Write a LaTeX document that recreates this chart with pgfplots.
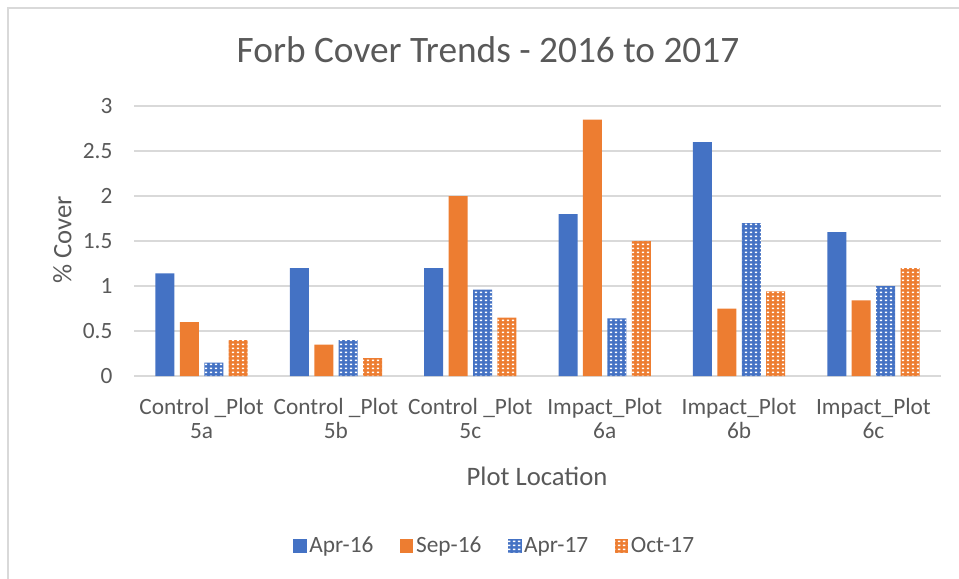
\documentclass[border=0pt]{standalone}
\usepackage{fontspec}
\setmainfont{Carlito}
\usepackage{pgfplots}
\pgfplotsset{compat=1.18}
\usetikzlibrary{patterns.meta}
\definecolor{xblue}{HTML}{4472C4}
\definecolor{xorange}{HTML}{ED7D31}
\definecolor{xtext}{HTML}{595959}
\definecolor{xgrid}{HTML}{D9D9D9}
\pgfdeclarepattern{
  name=holes, type=uncolored,
  bottom left={\pgfpoint{0pt}{0pt}},
  top right={\pgfpoint{3.4pt}{3pt}},
  tile size={\pgfpoint{3.4pt}{3pt}},
  code={\pgfpathrectangle{\pgfpoint{0.7pt}{0.7pt}}{\pgfpoint{1.9pt}{1.5pt}}\pgfusepath{fill}}
}
\begin{document}
\begin{tikzpicture}
\useasboundingbox (-100.8pt,-151.5pt) rectangle (618.45pt,282pt);
\draw[xgrid, line width=1pt] (-94.8pt,-170pt) -- (-94.8pt,276pt) -- (640pt,276pt);
\begin{axis}[
  at={(0pt,0pt)}, anchor=south west,
  scale only axis,
  width=604.65pt, height=202.5pt,
  ybar=4.05pt, bar width=14.25pt,
  xmin=-0.5, xmax=5.5,
  ymin=0, ymax=3,
  ytick={0,0.5,...,3},
  xtick={0,1,2,3,4,5},
  xticklabels={{Control \_Plot\\5a},{Control \_Plot\\5b},{Control \_Plot\\5c},{Impact\_Plot\\6a},{Impact\_Plot\\6b},{Impact\_Plot\\6c}},
  xticklabel style={align=center, font=\fontsize{17.5}{18}\selectfont, text=xtext, yshift=-13pt},
  yticklabel style={font=\fontsize{17.5}{18}\selectfont, text=xtext, xshift=-13pt},
  /pgf/number format/assume math mode=true,
  major tick length=0pt,
  axis x line*=bottom,
  axis y line*=left,
  y axis line style={draw=none},
  x axis line style={xgrid, line width=1.2pt, -},
  ymajorgrids,
  grid style={xgrid, line width=1.2pt},
  title={Forb Cover Trends - 2016 to 2017},
  title style={at={(axis description cs:0.4386,1.18)}, anchor=center, font=\fontsize{28}{32}\selectfont, text=xtext},
  ylabel={\% Cover},
  ylabel style={at={(axis description cs:-0.0893,0.504)}, anchor=center, font=\fontsize{20}{24}\selectfont, text=xtext},
  xlabel={Plot Location},
  xlabel style={at={(axis description cs:0.4994,-0.370)}, anchor=center, font=\fontsize{20}{24}\selectfont, text=xtext},
  legend style={at={(axis description cs:0.4474,-0.6296)}, anchor=center, draw=none, fill=none, legend columns=4, font=\fontsize{17.5}{20}\selectfont, text=xtext, /tikz/every even column/.append style={column sep=18pt}},
  legend image code/.code={\path[#1, draw=none] (0pt,-5pt) rectangle (10pt,5pt);},
]
\addplot[fill=xblue, draw=none] coordinates {(0,1.14) (1,1.2) (2,1.2) (3,1.8) (4,2.6) (5,1.6)};
\addplot[fill=xorange, draw=none] coordinates {(0,0.6) (1,0.35) (2,2.0) (3,2.85) (4,0.75) (5,0.84)};
\addplot[fill=xblue, draw=none, postaction={pattern=holes, pattern color=white}] coordinates {(0,0.15) (1,0.4) (2,0.96) (3,0.64) (4,1.7) (5,1.0)};
\addplot[fill=xorange, draw=none, postaction={pattern=holes, pattern color=white}] coordinates {(0,0.4) (1,0.2) (2,0.65) (3,1.5) (4,0.94) (5,1.2)};
\legend{Apr-16, Sep-16, Apr-17, Oct-17}
\end{axis}
\end{tikzpicture}
\end{document}
